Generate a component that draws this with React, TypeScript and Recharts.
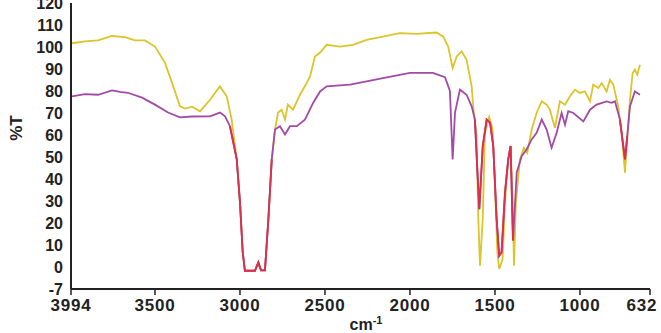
import React from 'react';
import { LineChart, Line, XAxis, YAxis } from 'recharts';

// wavenumber (cm-1) / %T, sample 1 (yellow)
const yellowWn = [3988, 3912, 3835, 3753, 3676, 3618, 3559, 3500, 3441, 3400, 3353, 3323, 3282, 3235, 3176, 3118, 3078, 3049, 3019, 3000, 2984, 2971, 2912, 2894, 2876, 2853, 2833, 2813, 2794, 2776, 2755, 2735, 2718, 2688, 2647, 2608, 2588, 2559, 2529, 2490, 2412, 2335, 2255, 2159, 2059, 1961, 1843, 1804, 1775, 1749, 1725, 1696, 1667, 1637, 1628, 1608, 1598, 1588, 1572, 1559, 1534, 1514, 1500, 1486, 1475, 1455, 1441, 1422, 1408, 1396, 1388, 1377, 1353, 1330, 1310, 1284, 1255, 1225, 1196, 1177, 1147, 1118, 1088, 1059, 1029, 1000, 971, 941, 922, 892, 872, 843, 824, 804, 775, 755, 735, 722, 706, 690, 677, 663, 647];
const yellowT = [101.7, 102.6, 103, 105, 104.5, 103, 103, 100.2, 92.8, 83.8, 73, 72, 72.9, 70.8, 76, 82.1, 77.6, 67, 48.9, 29.4, 6.8, -1.7, -1.7, 1.3, -1.5, -1.5, 21.7, 48.9, 62.5, 70.2, 71.5, 67, 73.8, 71.5, 78.3, 83.6, 86.6, 95.7, 97.5, 101, 100.2, 101, 103.2, 104.7, 106.3, 106, 106.6, 104.7, 100.2, 90.4, 95.7, 98, 94.2, 82.1, 73, 59.4, 21.7, 0.6, 21.7, 61, 68.2, 62.5, 36.8, 6.8, -0.9, 3.6, 29.4, 48.9, 54.9, 29.4, 0.6, 29.4, 48.9, 54.2, 51.9, 62.5, 70, 75.3, 73.8, 71.5, 63.2, 75.3, 73.8, 77.6, 80.6, 79.1, 79.8, 75.3, 82.9, 81.4, 83.6, 79.8, 85.1, 82.9, 73, 61, 42.9, 58, 76, 88.2, 89.7, 87.4, 91.9];

// sample 2 (purple)
const purpleWn = [3988, 3912, 3835, 3753, 3706, 3659, 3576, 3500, 3423, 3353, 3282, 3176, 3118, 3088, 3059, 3019, 3000, 2984, 2971, 2912, 2892, 2876, 2853, 2833, 2813, 2794, 2765, 2735, 2706, 2666, 2618, 2569, 2529, 2490, 2353, 2255, 2159, 2000, 1865, 1794, 1765, 1749, 1735, 1706, 1667, 1637, 1618, 1604, 1592, 1572, 1549, 1529, 1510, 1490, 1475, 1461, 1441, 1422, 1408, 1394, 1372, 1343, 1314, 1284, 1255, 1225, 1196, 1167, 1137, 1108, 1088, 1069, 1039, 980, 941, 902, 843, 814, 794, 765, 745, 735, 722, 706, 677, 647];
const purpleT = [77.6, 78.6, 78.3, 80.3, 79.6, 79.2, 77, 73.8, 70.2, 68, 68.4, 68.5, 70.2, 68.5, 64, 48.9, 29.4, 6.8, -1.7, -1.7, 2.2, -1.5, -1.5, 21.7, 48.9, 62.5, 64, 60.2, 64, 64, 67, 74.7, 79.8, 82.1, 82.9, 84.4, 85.9, 88.2, 88.2, 86.3, 80, 48.9, 70.2, 80.6, 78.3, 73, 67, 44.4, 26.3, 54.9, 67, 65.6, 54.9, 21.7, 5.1, 6.8, 34, 48.9, 55, 12, 43, 50.4, 53.4, 58, 61, 67, 62.5, 54.2, 61, 70, 64.7, 70.8, 70, 66.2, 71.5, 73.8, 75.3, 74.6, 75.3, 67, 55, 48.9, 59.4, 73, 79.8, 78.3];

// where both traces coincide the original shows red
const overlapRanges = [[2800, 3065], [1380, 1620], [715, 770]];

const xTicks = [3994, 3500, 3000, 2500, 2000, 1500, 1000, 588];
const yTicks = [-10, 0, 10, 20, 30, 40, 50, 60, 70, 80, 90, 100, 110, 120];

const yellow = yellowWn.map((wn, i) => ({ wn, t: yellowT[i] }));
const purple = purpleWn.map((wn, i) => ({ wn, t: purpleT[i] }));
const overlaps = overlapRanges.map(([lo, hi]) => purple.filter(p => p.wn >= lo && p.wn <= hi));

const XTick = ({ x, y, payload }: any) => {
    const last = payload.value === 588;
    return (
        <text x={last ? x - 8 : x} y={y + 13} textAnchor="middle" fontSize={17} fontWeight={700}
            fill="#222" letterSpacing={0.8}>
            {last ? '632' : payload.value}
        </text>
    );
};

export default function App() {
    return (
        <div style={{ position: 'fixed', left: 0, top: 0, width: 661, height: 333, background: '#fff' }}>
            <LineChart width={661} height={333} margin={{ top: 3, right: 11, left: 0, bottom: 0 }}
                style={{ fontFamily: '"Liberation Sans", Arial, sans-serif' }}>
                <XAxis type="number" dataKey="wn" domain={[588, 3994]} reversed allowDataOverflow
                    ticks={xTicks} interval={0} tick={<XTick />} tickSize={6} tickMargin={3} height={44}
                    axisLine={{ stroke: '#222', strokeWidth: 2 }} tickLine={{ stroke: '#222', strokeWidth: 1.5 }}
                    label={() => (
                        <text x={366} y={330} textAnchor="middle" fontSize={16} fontWeight={700} fill="#222">
                            cm<tspan dy={-6} fontSize={11}>-1</tspan>
                        </text>
                    )}
                />
                <YAxis type="number" domain={[-10, 120]} ticks={yTicks} interval={0} width={71}
                    tickFormatter={(v: number) => (v === -10 ? '-7' : String(v))}
                    tick={{ fontSize: 16, fontWeight: 700, fill: '#222' }} tickLine={false}
                    axisLine={{ stroke: '#222', strokeWidth: 2 }}
                    label={() => (
                        <text x={22} y={128} textAnchor="middle" fontSize={17} fontWeight={700} fill="#222"
                            transform="rotate(-90 22 128)">%T</text>
                    )}
                />
                <Line data={yellow} dataKey="t" type="linear" stroke="#dcc42a" strokeWidth={1.8} dot={false} isAnimationActive={false} />
                <Line data={purple} dataKey="t" type="linear" stroke="#a24aa8" strokeWidth={1.8} dot={false} isAnimationActive={false} />
                {overlaps.map((seg, i) => (
                    <Line key={i} data={seg} dataKey="t" type="linear" stroke="#db2f4e" strokeWidth={1.8} dot={false} isAnimationActive={false} />
                ))}
            </LineChart>
        </div>
    );
}
